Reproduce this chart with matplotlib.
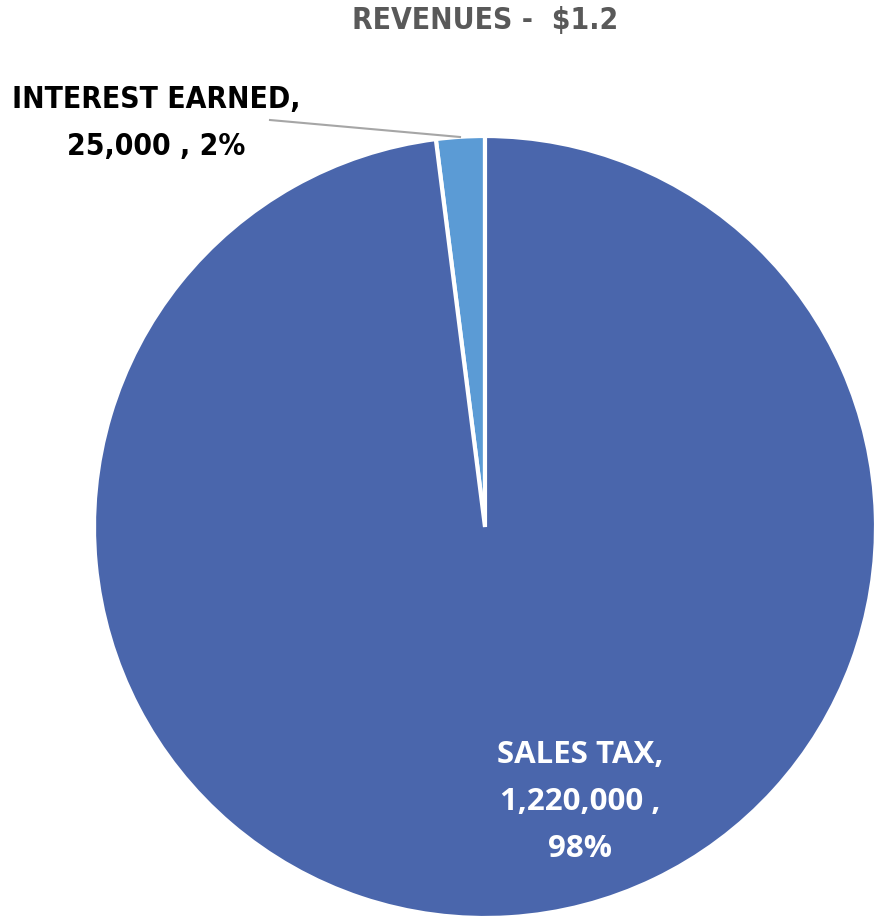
import matplotlib
matplotlib.use("Agg")
import matplotlib.pyplot as plt

labels = ["INTEREST EARNED", "SALES TAX"]
values = [25000, 1220000]
colors = ["#5B9BD5", "#4A66AC"]
title = "REVENUES -  $1.2"

W, H = 876, 919
fig = plt.figure(figsize=(W / 100, H / 100), dpi=100)
ax = fig.add_axes([0, 0, 1, 1])

cx, cy, r = 485, H - 527, 391
ax.pie(values, colors=colors, startangle=90, counterclock=True,
       center=(cx, cy), radius=r, frame=True,
       wedgeprops=dict(edgecolor="white", linewidth=3))
ax.set_xlim(0, W)
ax.set_ylim(0, H)
ax.set_aspect("equal")
ax.axis("off")

total = sum(values)
pct = [round(v / total * 100) for v in values]

font = dict(family=["DejaVu Sans"], fontweight="bold", fontstretch="condensed")

ax.text(cx, H - 21, title, ha="center", va="center", fontsize=21.5,
        color="#595959", **font)

ax.text(156, H - 123, f"{labels[0]},\n{values[0]:,} , {pct[0]}%",
        ha="center", va="center", fontsize=21.5, color="black",
        linespacing=1.8, **font)
ax.plot([270, 460], [H - 120, H - 137], color="#A6A6A6", lw=1.5)

ax.text(580, H - 802, f"{labels[1]},\n{values[1]:,} ,\n{pct[1]}%",
        ha="center", va="center", fontsize=22.5, color="white",
        linespacing=1.76, fontweight="bold", family=["Open Sans", "DejaVu Sans"])

fig.savefig("out.png", dpi=100)
